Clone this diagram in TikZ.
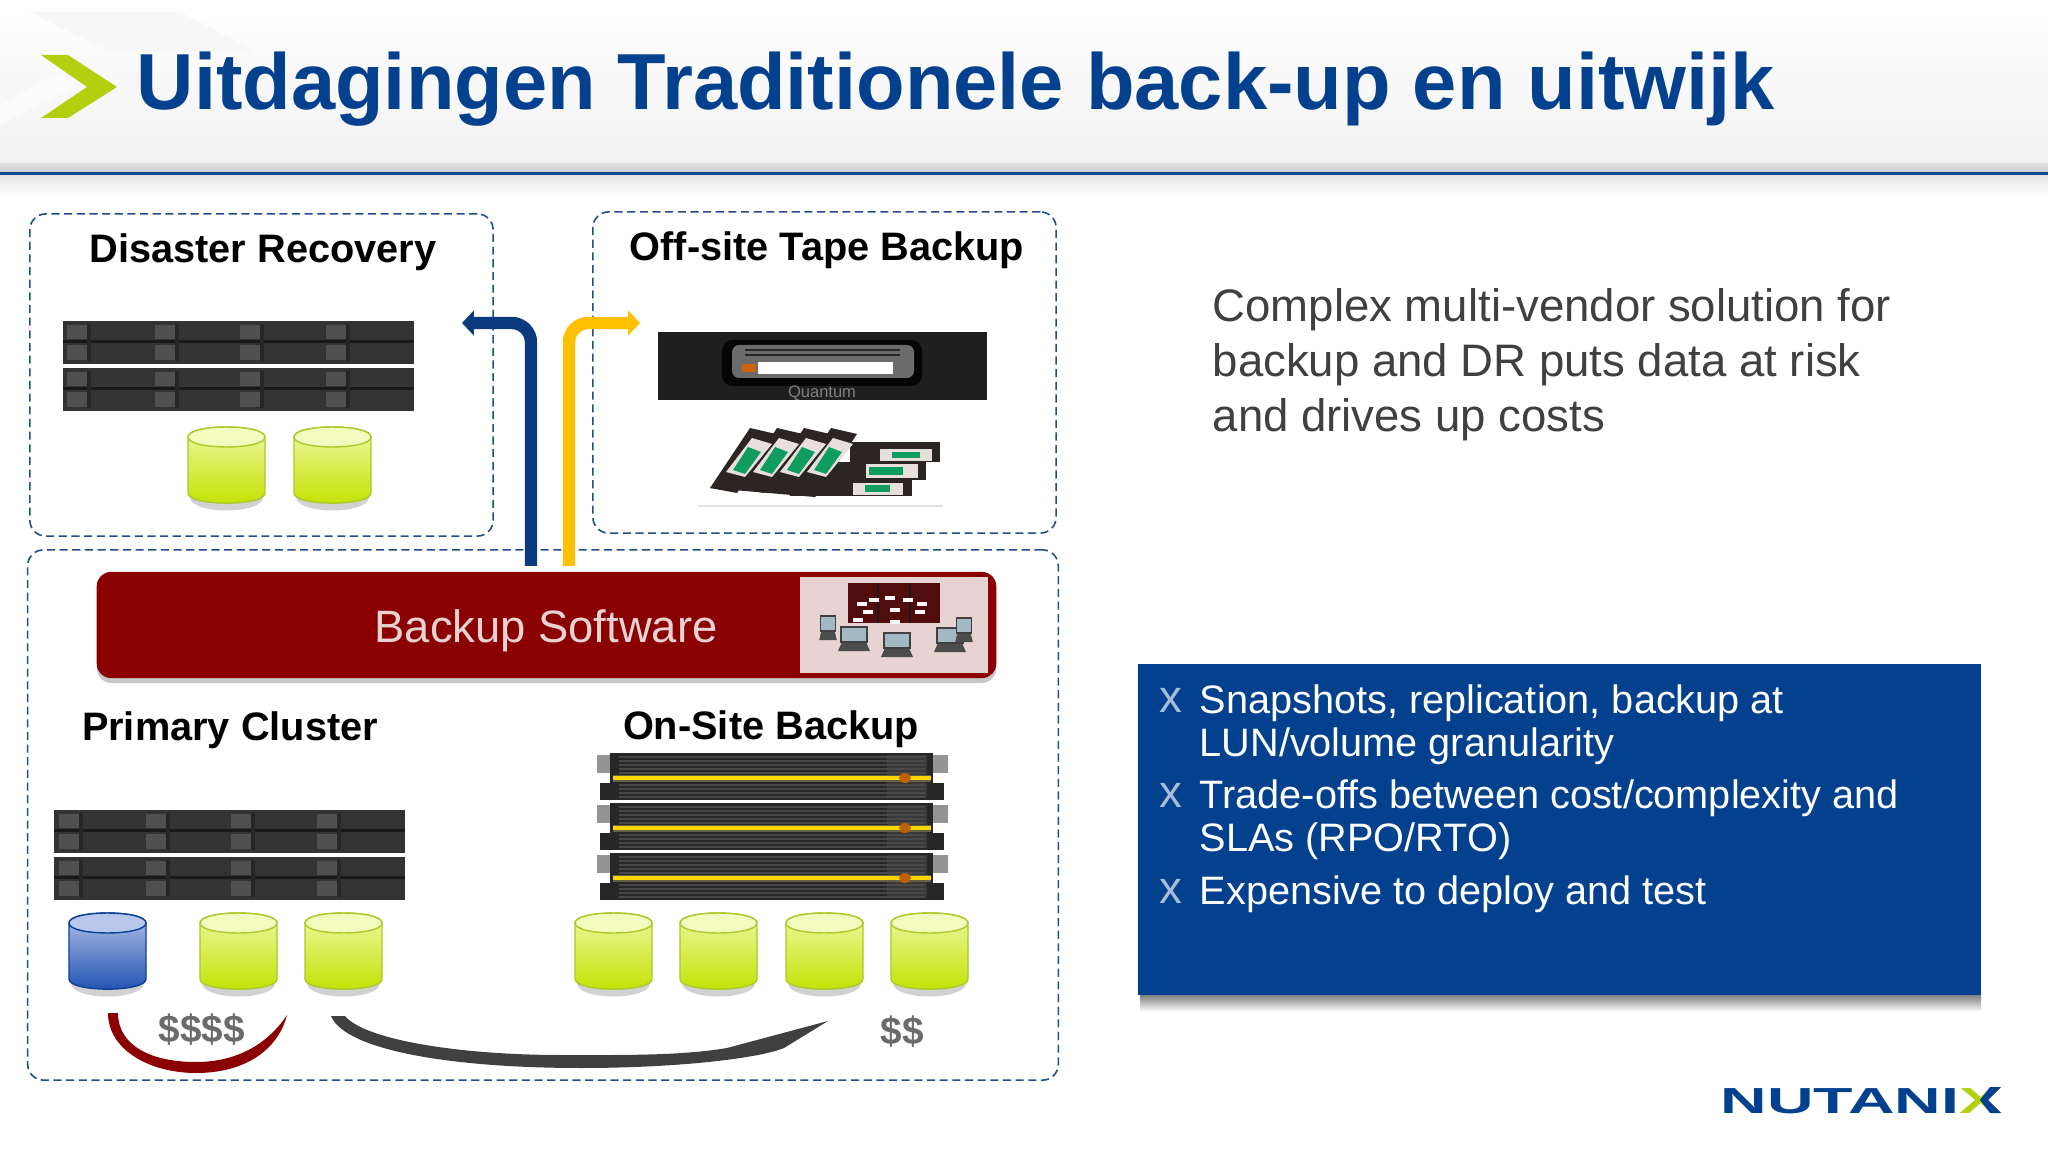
\documentclass[tikz,border=0pt]{standalone}
\usepackage{fontspec}
\setmainfont{Liberation Sans}
\usetikzlibrary{calc}
\usetikzlibrary{positioning}
\usetikzlibrary{arrows.meta}
\definecolor{ntxblue}{HTML}{03418F}
\definecolor{ntxlime}{HTML}{B3CF10}
\definecolor{barred}{HTML}{8B0000}
\definecolor{barpink}{HTML}{E8D3D3}
\definecolor{dashblue}{HTML}{1F4E8C}
\definecolor{arrownavy}{HTML}{0B3A7E}
\definecolor{arrowgold}{HTML}{FFC000}
\definecolor{slotgrey}{HTML}{505050}
\definecolor{rackgrey}{HTML}{333333}
\definecolor{tapegreen}{HTML}{0F9D5F}
\definecolor{tapebody}{HTML}{2B2523}
\definecolor{tapelabel}{HTML}{E6DFDC}
\definecolor{limetop}{HTML}{F0F9A8}
\definecolor{limebot}{HTML}{C2E200}
\definecolor{limecap}{HTML}{F4FBBE}
\definecolor{limeedge}{HTML}{ABC92A}
\definecolor{disktop}{HTML}{B8C7EC}
\definecolor{diskbot}{HTML}{1E50B0}
\definecolor{diskedge}{HTML}{0C3F96}
\newcommand{\diskshape}[4]{%
  \fill[black,opacity=.18] (2,70) .. controls (2,88) and (75,88) .. (75,70) -- cycle;
  \draw[draw=#1,line width=.4pt,top color=#2,bottom color=#3]
    (0,10) -- (0,66) .. controls (0,79.5) and (77,79.5) .. (77,66) -- (77,10)
    .. controls (77,-3.3) and (0,-3.3) .. (0,10) -- cycle;
  \draw[draw=#1,line width=.4pt,fill=#4]
    (0,10) .. controls (0,-3.3) and (77,-3.3) .. (77,10)
    .. controls (77,23.3) and (0,23.3) .. (0,10) -- cycle;
}
\begin{document}
\begin{tikzpicture}[x=0.01cm,y=-0.01cm]
      \tikzset{dashbox/.style={draw=dashblue, dash pattern=on 2.3pt off 1.3pt, line width=.45pt,
        rounded corners=4.5pt, inner sep=0pt}};
      \tikzset{boxlabel/.style={font=\fontsize{11.3}{13}\selectfont\bfseries, text=black, inner sep=0pt}};
      \tikzset{costlabel/.style={font=\fontsize{11}{13}\selectfont\bfseries, text=black!58, inner sep=0pt}};
      \tikzset{bullettext/.style={font=\fontsize{11.28}{12.2}\selectfont, text=white, align=left, anchor=north west, inner sep=0pt}};
      \tikzset{bulletmark/.style={font=\fontsize{13}{14}\selectfont, text=ntxblue!35!white, anchor=north west, inner sep=0pt}};
      \tikzset{flowline/.style={line width=3.5pt, rounded corners=5.5pt}};
      \tikzset{greendisk/.pic={\diskshape{limeedge}{limetop}{limebot}{limecap}}};
      \tikzset{bluedisk/.pic={\diskshape{diskedge}{disktop}{diskbot}{disktop}}};
      \tikzset{serverunit/.pic={
        \fill[rackgrey] (0,0) rectangle (351,43);
        \fill[black!90] (0,19) rectangle (351,22);
        \foreach \sx in {4.5,92,177,263}{
          \fill[slotgrey] (\sx,4) rectangle ++(20,14);
          \fill[slotgrey] (\sx,24) rectangle ++(20,15);
          \fill[black!85] (\sx+20,3) rectangle ++(4,37);
        }}};
      \tikzset{nasunit/.pic={
        \fill[black!42] (0,2) rectangle (13,20);
        \fill[black!42] (336,2) rectangle (351,20);
        \fill[black!85] (3,30) rectangle (16,47);
        \fill[black!85] (333,30) rectangle (347,47);
        \fill[black!85] (13,0) rectangle (336,47);
        \foreach \ny in {4,8,...,44}{
          \draw[black!72,line width=.4pt] (22,\ny) -- (328,\ny);
        }
        \fill[black!70,opacity=.5] (290,2) rectangle (330,45);
        \fill[black!70!yellow] (16,21.5) rectangle (334,28.5);
        \fill[yellow!75!orange] (16,23) rectangle (334,26.5);
        \fill[orange!75!black] (308,25) ellipse [x radius=6,y radius=5];
        }};
      \tikzset{laptop/.pic={
        \fill[black!70] (-12,6) -- (12,6) -- (16,15) -- (-16,15) -- cycle;
        \fill[black!75] (-14,-10) rectangle (14,7);
        \fill[cyan!25!gray!70] (-12,-8) rectangle (12,5);
        }};

      % page
      \fill[white] (0,0) rectangle (2048,1152);
      \useasboundingbox (0,0) rectangle (2048,1152);
      \shade[top color=white, bottom color=black!5] (0,0) rectangle (2048,164);
      \fill[black!3] (30,12) -- (180,12) -- (255,52) -- (110,52) -- cycle;
      \fill[white,opacity=.6] (0,105) -- (60,72) -- (75,87) -- (0,125) -- cycle;
      \shade[top color=black!12, bottom color=black!20] (0,164) rectangle (2048,172);
      \shade[top color=black!10, bottom color=white] (0,175) rectangle (2048,195);
      \fill[ntxblue!95!cyan] (0,172) rectangle (2048,175.5);

      % header
      \fill[ntxlime] (41,55) -- (68,55) -- (117,87) -- (68,118) -- (41,118) -- (87,87) -- cycle;
      \node[anchor=base west, inner sep=0pt, font=\fontsize{22.6}{26}\selectfont\bfseries, text=ntxblue] (title) at (136,109.5)
        {Uitdagingen Traditionele back-up en uitwijk};

      % dashed boxes
      \node[dashbox, minimum width=4.63cm, minimum height=3.22cm] (drBox) at (261.5,375) {};
      \node[dashbox, minimum width=4.63cm, minimum height=3.21cm] (tapeBox) at (824.5,372.5) {};
      \node[dashbox, minimum width=10.30cm, minimum height=5.30cm] (primaryBox) at (543,815) {};

      \node[boxlabel] (drLabel) at (263,252) {Disaster Recovery};
      \node[boxlabel] (tapeLabel) at (827,250) {Off-site Tape Backup};
      \node[boxlabel] (primaryLabel) at (230,730) {Primary Cluster};
      \node[boxlabel] (onsiteLabel) at (771,729) {On-Site Backup};

      % disaster recovery site
      \pic at (62.5,321) {serverunit};
      \pic at (62.5,368) {serverunit};
      \pic at (188,427) {greendisk};
      \pic at (294,427) {greendisk};

      % tape library
      \fill[black!88] (658,332) rectangle (987,400);
      \fill[black!98,rounded corners=3pt] (722,340) rectangle (922,386);
      \fill[black!58,rounded corners=2pt] (732,345) rectangle (914,378);
      \fill[white] (758,362) rectangle (893,374);
      \fill[orange!80!black] (742,364) rectangle (756,372);
      \foreach \ty in {350,355}{
        \draw[black!85,line width=.5pt] (745,\ty) -- (900,\ty);
      }
      \node[font=\fontsize{4.7}{5}\selectfont, text=black!50, inner sep=0pt] (quantumLabel) at (822,393) {Quantum};

      % tape cartridges
      \begin{scope}[shift={(690,420)}]
        \fill[tapebody] (160,22) rectangle (250,42);
        \fill[tapebody] (133,42) rectangle (236,60);
        \fill[tapebody] (100,60) rectangle (222,76);
        \fill[tapebody] (20,68) -- (45,44) -- (150,60) -- (125,77) -- cycle;
        \fill[tapelabel] (190,29) rectangle (242,41);
        \fill[tapegreen] (202,32) rectangle (230,38.5);
        \fill[tapelabel] (176,44) rectangle (228,58);
        \fill[tapegreen] (179,47) rectangle (213,55);
        \fill[tapelabel] (163,63) rectangle (213,75);
        \fill[tapegreen] (175,65) rectangle (200,72);
        \foreach \tx in {81,54,27,0}{
          \fill[tapebody] (\tx+20,68) -- (\tx+60,8) -- (\tx+86,14) -- (\tx+47,73) -- cycle;
          \fill[tapelabel] (\tx+36,52) -- (\tx+62,18) -- (\tx+82,24) -- (\tx+55,57) -- cycle;
          \fill[tapegreen] (\tx+43,50) -- (\tx+58,27) -- (\tx+71,32) -- (\tx+55,54) -- cycle;
        }
        \draw[black!12,line width=.5pt] (8,86) -- (253,86);
      \end{scope}

      % flows out of the software bar
      \coordinate (drArrowStart) at (531,566);
      \coordinate (drArrowEnd) at (462,323);
      \coordinate (tapeArrowStart) at (569,566);
      \coordinate (tapeArrowEnd) at (640,323);
      \draw[flowline, arrownavy, -{Triangle[length=3.4pt,width=7pt]}] (drArrowStart) |- (drArrowEnd);
      \draw[flowline, arrowgold, -{Triangle[length=3.4pt,width=7pt]}] (tapeArrowStart) |- (tapeArrowEnd);

      % backup software
      \fill[black,opacity=.22] (97,578) [rounded corners=4pt] rectangle (996,683);
      \node[fill=barred, rounded corners=4pt, minimum width=8.99cm, minimum height=1.06cm, inner sep=0pt] (softwareBar) at (546.5,625) {};
      \node[font=\fontsize{12.9}{15}\selectfont, text=barpink, inner sep=0pt] (softwareLabel) at (546,631) {Backup Software};
      \fill[barpink] (800,577) rectangle (988,673);
      \begin{scope}[shift={(790,570)}]
        \fill[black!72!red!95] (58,13) rectangle (150,53);
        \foreach \cx in {88,120}{
          \draw[black!90,line width=.6pt] (\cx,13) -- (\cx,53);
        }
        \foreach \px/\py in {72/34,84/30,100/28,118/30,132/34,78/42,105/40,130/42,68/50,105/52}{
          \fill[white!90!pink] (\px-5,\py-2) rectangle (\px+5,\py+2);
        }
        \pic at (107,72) {laptop};
        \pic at (64,66) {laptop};
        \pic at (160,67) {laptop};
        \pic[xscale=.55] at (38,55) {laptop};
        \pic[xscale=.55] at (174,57) {laptop};
      \end{scope}

      % primary cluster
      \pic at (54,810) {serverunit};
      \pic at (54,857) {serverunit};
      \pic at (69,913) {bluedisk};
      \pic at (200,913) {greendisk};
      \pic at (305,913) {greendisk};

      % on-site backup
      \pic at (597,753) {nasunit};
      \pic at (597,803) {nasunit};
      \pic at (597,853) {nasunit};
      \foreach \dx in {575,680,786,891}{
        \pic at (\dx,913) {greendisk};
      }

      % cost curves
      \fill[barred] (108,1013) .. controls (108,1050) and (150,1073) .. (196,1073)
        .. controls (245,1073) and (278,1050) .. (287,1015)
        .. controls (265,1048) and (232,1062) .. (196,1062)
        .. controls (150,1062) and (118,1045) .. (118,1013) -- cycle;
      \fill[black!75] (331,1016) .. controls (345,1050) and (450,1068) .. (581,1068)
        .. controls (680,1068) and (760,1058) .. (784,1048) -- (828,1021) -- (727,1048)
        .. controls (680,1056) and (620,1055) .. (561,1055)
        .. controls (460,1055) and (365,1040) .. (345,1016) -- cycle;
      \node[costlabel] (costHigh) at (202,1030) {\$\$\$\$};
      \node[costlabel] (costLow) at (902,1032) {\$\$};

      % right column
      \node[anchor=north west, inner sep=0pt, align=left, font=\fontsize{12.95}{15.65}\selectfont, text=black!75] (summary) at (1212,288)
        {Complex multi-vendor solution for\\backup and DR puts data at risk\\and drives up costs};

      \shade[top color=black!50, bottom color=black!5] (1140,995) rectangle (1981,1010);
      \node[fill=ntxblue, minimum width=8.43cm, minimum height=3.31cm, inner sep=0pt] (issueBox) at (1559.5,829.5) {};
      \node[bulletmark] (markA) at (1159,688) {x};
      \node[bulletmark] (markB) at (1159,783) {x};
      \node[bulletmark] (markC) at (1159,879) {x};
      \node[bullettext] (issueA) at (1199,684) {Snapshots, replication, backup at\\LUN/volume granularity};
      \node[bullettext] (issueB) at (1199,779) {Trade-offs between cost/complexity and\\SLAs (RPO/RTO)};
      \node[bullettext] (issueC) at (1199,875) {Expensive to deploy and test};

      % logo
      \node[anchor=base west, inner sep=0pt, font=\fontsize{10.3}{12}\selectfont\bfseries, text=ntxblue] (logo) at (1720,1113)
        {\scalebox{1.78}[1]{NUTANI\textcolor{ntxlime}{X}}};
      \fill[ntxblue] (1980,1100) -- (1990,1087) -- (2001,1087) -- (1988,1100) -- (2001,1113) -- (1990,1113) -- cycle;
\end{tikzpicture}
\end{document}
